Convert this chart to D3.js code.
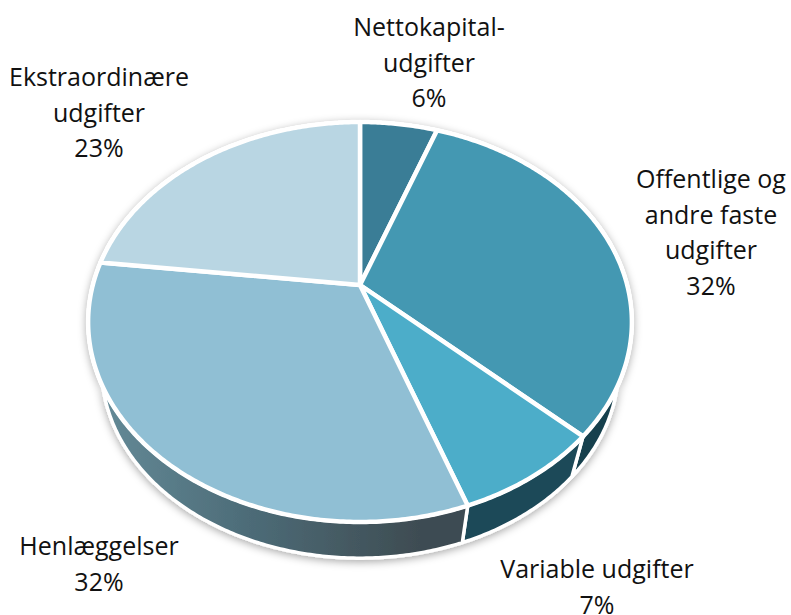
<!DOCTYPE html>
<html>
<head>
<meta charset="utf-8">
<script src="https://cdn.jsdelivr.net/npm/d3@7"></script>
<style>
    html, body { margin: 0; padding: 0; background: #fff; overflow: hidden; }
    text { font-family: "Open Sans", "Noto Sans", sans-serif; fill: #111; }
</style>
</head>
<body>
<div data-chart></div>
<script>
const categories = ['Nettokapitaludgifter', 'Offentlige og andre faste udgifter', 'Variable udgifter', 'Henlæggelser', 'Ekstraordinære udgifter']
// slice sizes as drawn in the picture, the printed labels are rounded differently
const shares = [5.5, 31.5, 7.6, 32.3, 23.1]
const labelLines = [
    ['Nettokapital-', 'udgifter', '6%'],
    ['Offentlige og', 'andre faste', 'udgifter', '32%'],
    ['Variable udgifter', '7%'],
    ['Henlæggelser', '32%'],
    ['Ekstraordinære', 'udgifter', '23%']
]
const topColors = ['#3a7d96', '#4498b2', '#4cadc9', '#90bfd4', '#b9d6e3']
const wallColors = ['#2a5a6c', '#17404e', '#1e4858', 'url(#wallFade)', '#7f98a3']

const width = 791
const height = 615

// where the label block sits: centre x, first baseline
const labelAt = [[429, 36], [711, 188], [597, 578], [99, 555], [99, 86]]

// the pie is tilted, so the hub is not the middle of the ellipse
const hub = [360, 285]
const tilt = -0.185
const depthScale = 193.15
const spread = 267.2

function project(angle) {
    let u = Math.sin(angle)
    let v = -Math.cos(angle)
    let w = 1 + tilt * v
    return [spread * u / w, depthScale * v / w]
}

function rim(start, end) {
    let steps = Math.max(2, Math.ceil((end - start) / 0.01))
    return d3.range(steps + 1).map(i => project(start + (end - start) * i / steps))
}

// bottom edge of the disc
const wallDrop = 48
const wallShrink = 0.95
function lower(p) {
    return [p[0] * wallShrink, p[1] * wallShrink + wallDrop]
}

const svg = d3.select('[data-chart]').append('svg')
    .attr('width', width)
    .attr('height', height)
    .style('display', 'block')

const defs = svg.append('defs')

const fade = defs.append('linearGradient')
    .attr('id', 'wallFade')
    .attr('gradientUnits', 'userSpaceOnUse')
    .attr('x1', -255).attr('x2', 60)
    .attr('y1', 0).attr('y2', 0)
fade.append('stop').attr('offset', 0).attr('stop-color', '#638996')
fade.append('stop').attr('offset', 0.45).attr('stop-color', '#4d6c78')
fade.append('stop').attr('offset', 1).attr('stop-color', '#3e4c52')

const shadow = defs.append('filter')
    .attr('id', 'soft')
    .attr('x', '-10%').attr('y', '-10%').attr('width', '120%').attr('height', '120%')
shadow.append('feDropShadow')
    .attr('dx', 0).attr('dy', 2)
    .attr('stdDeviation', 4)
    .attr('flood-color', '#000')
    .attr('flood-opacity', 0.35)

const pie = d3.pie().sort(null).value(d => d)
const slices = pie(shares)
const line = d3.line()

const color = d3.scaleOrdinal().domain(categories).range(topColors)
const wallColor = d3.scaleOrdinal().domain(categories).range(wallColors)

const g = svg.append('g').attr('transform', 'translate(' + hub + ')')

// disc shadow and white outline, then the side of each slice
const walls = g.append('g').attr('filter', 'url(#soft)')

walls.selectAll('path')
    .data(slices)
    .enter().append('path')
    .attr('d', d => {
        let top = rim(d.startAngle, d.endAngle)
        return line(top.concat(top.map(lower).reverse())) + 'Z'
    })
    .attr('fill', (d, i) => wallColor(categories[i]))
    .attr('stroke', '#fff')
    .attr('stroke-width', 3.5)
    .attr('stroke-linejoin', 'round')

g.append('g').selectAll('path')
    .data(slices)
    .enter().append('path')
    .attr('d', d => line([[0, 0]].concat(rim(d.startAngle, d.endAngle))) + 'Z')
    .attr('fill', (d, i) => color(categories[i]))
    .attr('stroke', '#fff')
    .attr('stroke-width', 4.5)
    .attr('stroke-linejoin', 'round')

const labels = svg.append('g').selectAll('text')
    .data(labelLines)
    .enter().append('text')
    .attr('text-anchor', 'middle')
    .attr('font-size', 25)

labels.selectAll('tspan')
    .data((d, i) => d.map((t, j) => ({ t: t, x: labelAt[i][0], y: labelAt[i][1] + j * 35.6 })))
    .enter().append('tspan')
    .attr('x', d => d.x)
    .attr('y', d => d.y)
    .text(d => d.t)
</script>
</body>
</html>
